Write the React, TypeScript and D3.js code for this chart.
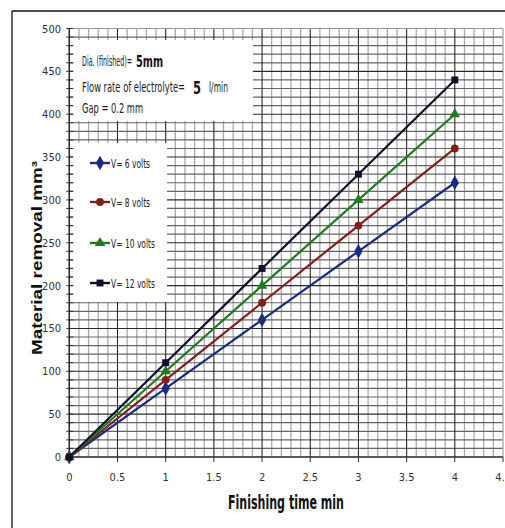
import React from "react";
import * as d3 from "d3";

// Finishing time (min) and material removal (mm³) for each voltage
const times = [0, 1, 2, 3, 4];
const v6 = [0, 80, 160, 240, 320];
const v8 = [0, 90, 180, 270, 360];
const v10 = [0, 100, 200, 300, 400];
const v12 = [0, 110, 220, 330, 440];
const seriesNames = ["V= 6 volts", "V= 8 volts", "V= 10 volts", "V= 12 volts"];
const xTicks = [0, 0.5, 1, 1.5, 2, 2.5, 3, 3.5, 4, 4.5];
const yTicks = [0, 50, 100, 150, 200, 250, 300, 350, 400, 450, 500];

const W = 505;
const H = 528;
const NARROW = "'Liberation Sans Narrow', 'Arial Narrow', 'DejaVu Sans Condensed', sans-serif";

const series = [
  { name: seriesNames[0], values: v6, color: "#1b2a85", symbol: d3.symbolDiamond, size: 60 },
  { name: seriesNames[1], values: v8, color: "#8a1b1b", symbol: d3.symbolCircle, size: 48 },
  { name: seriesNames[2], values: v10, color: "#1c7d1c", symbol: d3.symbolTriangle, size: 48 },
  { name: seriesNames[3], values: v12, color: "#0f0f2e", symbol: d3.symbolSquare, size: 48 },
];

export default function App() {
  const x = d3.scaleLinear().domain([0, 4.5]).range([69.3, 503]);
  const y = d3.scaleLinear().domain([0, 500]).range([457, 28.5]);

  const minorX = d3.range(0, 45.01, 1).map((i) => i / 10);
  const minorY = d3.range(0, 501, 10);

  const line = d3
    .line<number>()
    .x((_, i) => x(times[i]))
    .y((d) => y(d));

  const [x0, x1] = x.range();
  const [y0, y1] = y.range();

  return (
    <svg
      width={W}
      height={H}
      style={{ position: "absolute", left: 0, top: 0, background: "#fff" }}
    >
      <rect x={0} y={0} width={W} height={H} fill="#fff" />
      {/* outer frame */}
      <line x1={12} y1={11} x2={W} y2={11} stroke="#111" strokeWidth={1.3} />
      <line x1={12} y1={11} x2={12} y2={H} stroke="#111" strokeWidth={1.3} />

      {/* minor grid */}
      {minorX.map((v, i) =>
        i % 5 === 0 ? null : (
          <line key={"mx" + i} x1={x(v)} x2={x(v)} y1={y1} y2={y0} stroke="#aaa" strokeWidth={1.3} />
        )
      )}
      {minorY.map((v, i) =>
        i % 5 === 0 ? null : (
          <line key={"my" + i} x1={x0} x2={x1} y1={y(v)} y2={y(v)} stroke="#666" strokeWidth={1.2} />
        )
      )}
      {/* major grid */}
      {xTicks.map((v) => (
        <line
          key={"Mx" + v}
          x1={x(v)}
          x2={x(v)}
          y1={y1}
          y2={y0}
          stroke={v === 4.5 ? "#999" : "#2a2a2a"}
          strokeWidth={1.1}
        />
      ))}
      {yTicks.map((v) => (
        <line
          key={"My" + v}
          x1={x0}
          x2={x1}
          y1={y(v)}
          y2={y(v)}
          stroke={v === 500 ? "#999" : "#2a2a2a"}
          strokeWidth={1.1}
        />
      ))}

      {/* info box */}
      <rect x={73} y={40} width={180} height={81} fill="#fff" />
      {/* legend box */}
      <rect x={73} y={143} width={94} height={159} fill="#fff" />

      {/* y axis minor ticks */}
      {minorY.map((v) => (
        <line key={"yt" + v} x1={x0 - 3} x2={x0 + 4} y1={y(v)} y2={y(v)} stroke="#333" strokeWidth={1} />
      ))}
      {/* axes */}
      <line x1={x0} x2={x0} y1={y1} y2={y0} stroke="#222" strokeWidth={1.2} />
      <line x1={x0} x2={x1} y1={y0} y2={y0} stroke="#222" strokeWidth={1.2} />
      {xTicks.map((v) => (
        <line key={"xt" + v} x1={x(v)} x2={x(v)} y1={y0} y2={y0 + 5} stroke="#333" strokeWidth={1} />
      ))}

      {/* tick labels */}
      {yTicks.map((v) => (
        <text
          key={"yl" + v}
          x={61}
          y={y(v) + 4}
          textAnchor="end"
          fontFamily={NARROW}
          fontSize={11}
          fill="#333"
        >
          {v}
        </text>
      ))}
      {xTicks.map((v) => (
        <text
          key={"xl" + v}
          x={x(v)}
          y={481}
          textAnchor="middle"
          fontFamily={NARROW}
          fontSize={11}
          fill="#333"
        >
          {v}
        </text>
      ))}

      {/* series */}
      {series.map((s) => (
        <g key={s.name}>
          <path d={line(s.values) || ""} fill="none" stroke={s.color} strokeWidth={2.2} />
          {s.values.map((v, i) => (
            <path
              key={i}
              d={d3.symbol().type(s.symbol).size(s.size)() || ""}
              transform={`translate(${x(times[i])},${y(v)})`}
              fill={s.color}
            />
          ))}
        </g>
      ))}

      {/* legend */}
      {series.map((s, i) => {
        const cy = [163, 202, 243, 283][i];
        return (
          <g key={"lg" + i}>
            <line x1={90} x2={110} y1={cy} y2={cy} stroke={s.color} strokeWidth={2.4} />
            <path
              d={d3.symbol().type(s.symbol).size(s.size)() || ""}
              transform={`translate(100,${cy})`}
              fill={s.color}
            />
            <text
              x={111}
              y={cy + 4.5}
              fontFamily={NARROW}
              fontSize={12.5}
              fill="#222"
              textLength={i < 2 ? 39 : 44}
              lengthAdjust="spacingAndGlyphs"
            >
              {s.name}
            </text>
          </g>
        );
      })}

      {/* info text */}
      <text x={82} y={66} fontFamily={NARROW} fontSize={13.5} fill="#222" textLength={50} lengthAdjust="spacingAndGlyphs">
        Dia. (finished)=
      </text>
      <text x={136} y={67} fontFamily={NARROW} fontSize={16} fontWeight="bold" fill="#111" textLength={27} lengthAdjust="spacingAndGlyphs">
        5mm
      </text>
      <text x={82} y={92} fontFamily={NARROW} fontSize={13.5} fill="#222" textLength={103} lengthAdjust="spacingAndGlyphs">
        Flow rate of electrolyte=
      </text>
      <text x={193} y={94} fontFamily={NARROW} fontSize={17} fontWeight="bold" fill="#111" textLength={8} lengthAdjust="spacingAndGlyphs">
        5
      </text>
      <text x={209} y={92} fontFamily={NARROW} fontSize={13.5} fill="#222" textLength={19} lengthAdjust="spacingAndGlyphs">
        l/min
      </text>
      <text x={82} y={113} fontFamily={NARROW} fontSize={13.5} fill="#222" textLength={61} lengthAdjust="spacingAndGlyphs">
        Gap = 0.2 mm
      </text>

      {/* axis titles */}
      <text
        x={286}
        y={509}
        textAnchor="middle"
        fontFamily={NARROW}
        fontSize={19}
        fontWeight="bold"
        fill="#111"
        textLength={116}
        lengthAdjust="spacingAndGlyphs"
      >
        Finishing time min
      </text>
      <text
        transform="translate(42,258) rotate(-90)"
        textAnchor="middle"
        fontFamily="'Liberation Sans', Arial, sans-serif"
        fontSize={15}
        fontWeight="bold"
        fill="#111"
        textLength={194}
        lengthAdjust="spacingAndGlyphs"
      >
        Material removal  mm³
      </text>
    </svg>
  );
}
